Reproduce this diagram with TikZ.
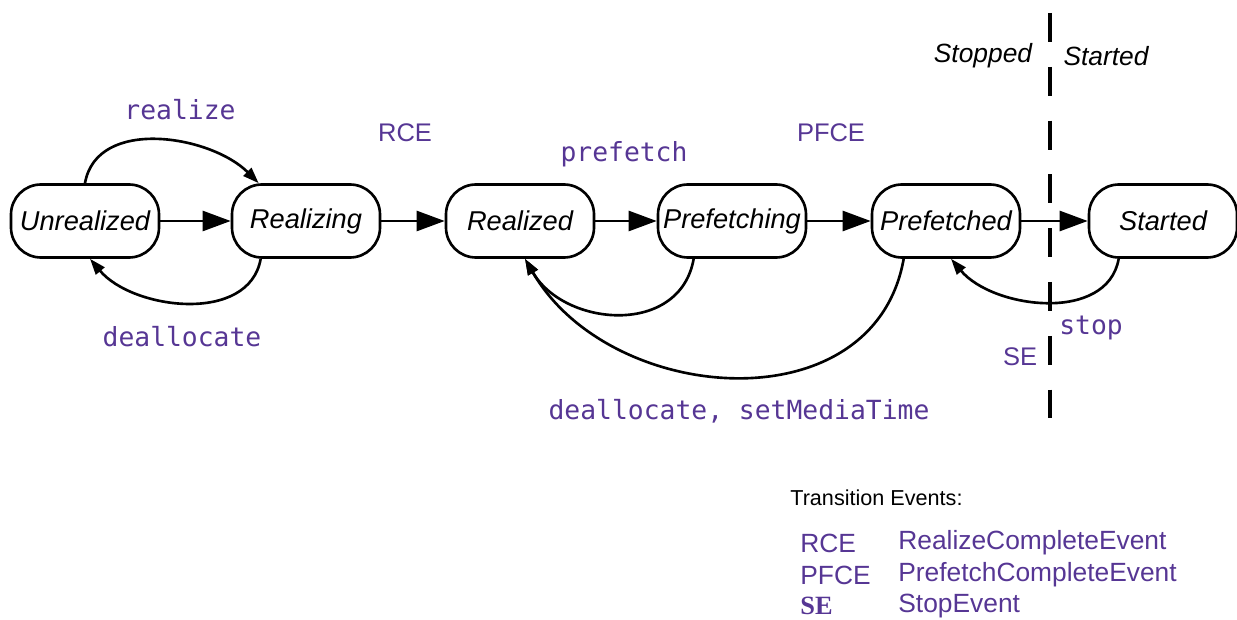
\documentclass[tikz,border=0pt]{standalone}
\usepackage{fontspec}
\setmainfont{Liberation Sans}
\setmonofont{DejaVu Sans Mono}
\newfontfamily\legendserif{Liberation Serif}
\usetikzlibrary{arrows.meta}
\definecolor{evtpurple}{RGB}{86,54,148}
\tikzset{
	statebox/.style={draw, line width=1.5pt, rounded corners=0.6cm, minimum width=2.96cm, minimum height=1.46cm, inner sep=0pt, font=\fontsize{15.5}{18}\selectfont\itshape},
	calllabel/.style={text=evtpurple, font=\fontsize{15}{18}\selectfont\ttfamily},
	evtlabel/.style={text=evtpurple, font=\fontsize{14.5}{17}\selectfont},
	sidelabel/.style={font=\fontsize{15}{18}\selectfont\itshape},
	bigtip/.style={line width=1.5pt, -{Triangle[length=0.56cm, width=0.4cm]}},
	smalltip/.style={line width=1.5pt, -{Triangle[length=0.32cm, width=0.22cm]}}
}

\begin{document}
\begin{tikzpicture}
		%%%%% START %%%%%
		\useasboundingbox (0, 0) rectangle (24.74, 12.38);
		
		\node[statebox] (unrealized) at (1.70, 7.96) {Unrealized};
		\node[statebox] (realizing) at (6.12, 7.96) {Realizing};
		\node[statebox] (realized) at (10.40, 7.96) {Realized};
		\node[statebox] (prefetching) at (14.64, 7.96) {Prefetching};
		\node[statebox] (prefetched) at (18.92, 7.96) {Prefetched};
		\node[statebox] (started) at (23.26, 7.96) {Started};
		
		\draw[line width=2.6pt, dash pattern=on 0.58cm off 0.496cm] (21.0, 12.12) -- (21.0, 4.02);
		
		\draw[bigtip] (unrealized) -- (realizing);
		\draw[bigtip] (realizing) -- (realized);
		\draw[bigtip] (realized) -- (prefetching);
		\draw[bigtip] (prefetching) -- (prefetched);
		\draw[bigtip] (prefetched) -- (started);
		
		\draw[smalltip] (unrealized.north) to[out=80, in=135] ([xshift=0.56cm]realizing.north west);
		\draw[smalltip] ([xshift=0.6cm]realizing.south west) to[out=-100, in=-50] ([xshift=0.1cm]unrealized.south);
		\draw[smalltip] ([xshift=0.74cm]prefetching.south west) to[out=-100, in=-60, looseness=1.2] ([xshift=0.1cm]realized.south);
		\draw[smalltip] ([xshift=0.66cm]prefetched.south west) to[out=-100, in=-60, looseness=1.15] ([xshift=0.1cm]realized.south);
		\draw[smalltip] ([xshift=0.62cm]started.south west) to[out=-100, in=-50] ([xshift=0.1cm]prefetched.south);
		
		\node[calllabel] (realizelbl) at (3.60, 10.18) {realize};
		\node[calllabel] (dealloclbl) at (3.64, 5.64) {deallocate};
		\node[calllabel] (prefetchlbl) at (12.48, 9.30) {prefetch};
		\node[calllabel] (setmedialbl) at (14.78, 4.16) {deallocate, setMediaTime};
		\node[calllabel] (stoplbl) at (21.82, 5.82) {stop};
		
		\node[evtlabel] (rcelbl) at (8.10, 9.72) {RCE};
		\node[evtlabel] (pfcelbl) at (16.62, 9.72) {PFCE};
		\node[evtlabel] (selbl) at (20.40, 5.24) {SE};
		
		\node[sidelabel] (stoppedside) at (19.66, 11.26) {Stopped};
		\node[sidelabel] (startedside) at (22.12, 11.26) {Started};
		
		% legend
		\node[anchor=west, inner sep=0pt, font=\fontsize{12.3}{15}\selectfont] (legendtitle) at (15.80, 2.42) {Transition Events:};
		\node[anchor=west, inner sep=0pt, text=evtpurple, font=\fontsize{15}{18}\selectfont] (legrce) at (16.00, 1.52) {RCE};
		\node[anchor=west, inner sep=0pt, text=evtpurple, font=\fontsize{15}{18}\selectfont] (legpfce) at (16.00, 0.88) {PFCE};
		\node[anchor=west, inner sep=0pt, text=evtpurple, font=\fontsize{15}{18}\selectfont\legendserif\bfseries] (legse) at (16.00, 0.26) {SE};
		\node[anchor=west, inner sep=0pt, text=evtpurple, font=\fontsize{15}{18}\selectfont] (legrcetext) at (17.96, 1.52) {RealizeCompleteEvent};
		\node[anchor=west, inner sep=0pt, text=evtpurple, font=\fontsize{15}{18}\selectfont] (legpfcetext) at (17.96, 0.88) {PrefetchCompleteEvent};
		\node[anchor=west, inner sep=0pt, text=evtpurple, font=\fontsize{15}{18}\selectfont] (legsetext) at (17.96, 0.26) {StopEvent};
		
		%%%%% END %%%%%
	\end{tikzpicture}
\end{document}
